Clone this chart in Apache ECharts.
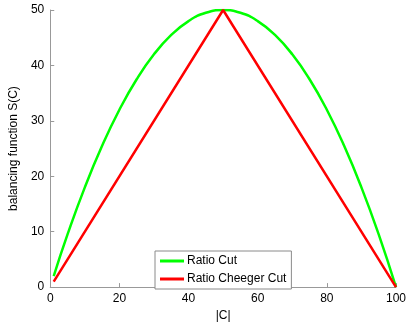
<!DOCTYPE html>
<html>
<head>
<meta charset="utf-8">
<script src="https://cdn.jsdelivr.net/npm/echarts@6/dist/echarts.min.js"></script>
<style>
  html, body { margin: 0; padding: 0; background: #fff; }
  #chart { width: 409px; height: 327px; }
</style>
</head>
<body>
<div id="chart"></div>
<script>
// values
const cutSize = [1, 5, 10, 15, 20, 25, 30, 35, 40, 45, 50, 55, 60, 65, 70, 75, 80, 85, 90, 95, 100];
const ratioCut = [2, 9.5, 18, 25.5, 32, 37.5, 42, 45.5, 48, 49.5, 50, 49.5, 48, 45.5, 42, 37.5, 32, 25.5, 18, 9.5, 0];
const cheegerX = [1, 50, 100];
const ratioCheeger = [1, 50, 0];

const fontFam = "'Liberation Sans', Arial, sans-serif";

let chart = echarts.init(document.getElementById("chart"));

const option = {
	animation: false,
	grid: { left: 44, right: 7, top: 10, bottom: 36 },
	legend: {
		left: 155,
		top: 251,
		orient: "vertical",
		backgroundColor: "#fff",
		borderColor: "#8a8a8a",
		borderWidth: 1,
		borderRadius: 0,
		padding: [4, 5, 4, 5],
		itemGap: 6,
		itemWidth: 24,
		itemHeight: 3,
		icon: "rect",
		textStyle: { color: "#000", fontSize: 12, fontFamily: fontFam, padding: [0, 0, 0, -2] },
		data: ["Ratio Cut", "Ratio Cheeger Cut"],
	},
	xAxis: {
		type: "value",
		min: 0,
		max: 100,
		interval: 20,
		name: "|C|",
		nameLocation: "middle",
		nameGap: 21,
		nameTextStyle: { color: "#000", fontSize: 12, fontFamily: fontFam },
		axisLine: { lineStyle: { color: "#999", width: 1 } },
		axisTick: { inside: true, length: 4, lineStyle: { color: "#999" } },
		axisLabel: { color: "#000", fontSize: 12, fontFamily: fontFam, margin: 6 },
		splitLine: { show: false },
	},
	yAxis: {
		type: "value",
		min: 0,
		max: 50,
		interval: 10,
		name: "balancing function S(C)",
		nameLocation: "middle",
		nameGap: 20,
		nameTextStyle: { color: "#000", fontSize: 12, fontFamily: fontFam },
		axisLine: { show: true, lineStyle: { color: "#999", width: 1 } },
		axisTick: { show: true, inside: true, length: 4, lineStyle: { color: "#999" } },
		axisLabel: { color: "#000", fontSize: 12, fontFamily: fontFam, margin: 6 },
		splitLine: { show: false },
	},
	series: [
		{
			name: "Ratio Cut",
			type: "line",
			smooth: true,
			symbol: "none",
			color: "#00ff00",
			lineStyle: { width: 2.5 },
			data: cutSize.map((x, i) => [x, ratioCut[i]]),
		},
		{
			name: "Ratio Cheeger Cut",
			type: "line",
			symbol: "none",
			color: "#ff0000",
			lineStyle: { width: 2.5 },
			data: cheegerX.map((x, i) => [x, ratioCheeger[i]]),
		},
	],
};

chart.setOption(option);
</script>
</body>
</html>
